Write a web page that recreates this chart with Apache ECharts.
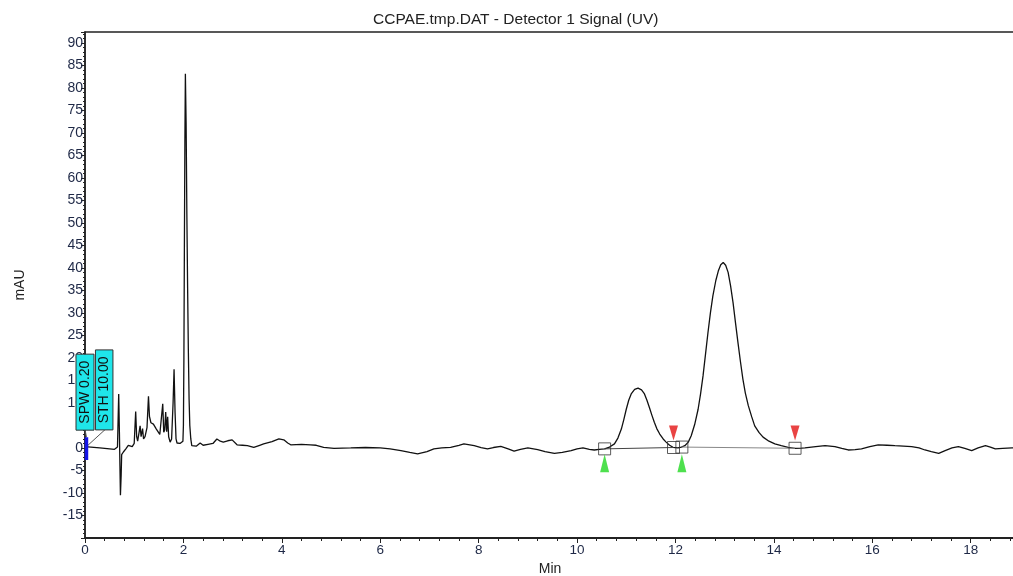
<!DOCTYPE html>
<html>
<head>
<meta charset="utf-8">
<script src="https://cdn.jsdelivr.net/npm/echarts@6/dist/echarts.min.js"></script>
<style>
html,body{margin:0;padding:0;background:#fff;}
#main{width:1013px;height:576px;}
</style>
</head>
<body>
<div id="main"></div>
<script>
// ---- Data ----
const titleText = 'CCPAE.tmp.DAT - Detector 1 Signal (UV)';
const xName = 'Min';
const yName = 'mAU';

// Chromatogram trace: [time (min), signal (mAU)]
const traceTime = [
  0, 0.3, 0.6, 0.66, 0.685, 0.70, 0.71, 0.72, 0.735, 0.745, 0.78, 0.83, 0.88, 0.92, 0.96,
  1.0, 1.03, 1.05, 1.07, 1.1, 1.12, 1.14, 1.17, 1.19, 1.22, 1.26, 1.29, 1.31, 1.34, 1.39,
  1.45, 1.52, 1.56, 1.58, 1.60, 1.62, 1.64, 1.66, 1.68, 1.70, 1.73, 1.76, 1.79, 1.81, 1.83,
  1.85, 1.87, 1.93, 1.97, 1.99, 2.00, 2.01, 2.02, 2.03, 2.04, 2.055, 2.07, 2.085, 2.10, 2.115,
  2.13, 2.15, 2.17, 2.2, 2.26, 2.34, 2.4, 2.5, 2.6, 2.68, 2.75, 2.81, 2.9, 2.99, 3.09,
  3.2, 3.3, 3.43, 3.55, 3.63, 3.8, 3.94, 4.04, 4.12, 4.18, 4.4, 4.58, 4.7, 4.85, 5.06,
  5.4, 5.7, 6.0, 6.2, 6.42, 6.6, 6.76, 6.95, 7.09, 7.25, 7.43, 7.6, 7.7, 7.91, 8.05,
  8.18, 8.3, 8.45, 8.6, 8.72, 8.85, 9.0, 9.2, 9.35, 9.54, 9.7, 9.88, 10.0, 10.12, 10.25,
  10.35, 10.45, 10.56, 10.66, 10.76, 10.83, 10.9, 10.95, 11.0, 11.05, 11.1, 11.17, 11.24, 11.31, 11.37,
  11.42, 11.47, 11.52, 11.57, 11.62, 11.68, 11.75, 11.81, 11.88, 11.95, 12.05, 12.12, 12.19, 12.26, 12.32,
  12.39, 12.46, 12.51, 12.56, 12.61, 12.66, 12.71, 12.76, 12.82, 12.87, 12.92, 12.97, 13.02, 13.07, 13.12,
  13.17, 13.22, 13.27, 13.32, 13.37, 13.42, 13.48, 13.55, 13.61, 13.7, 13.78, 13.9, 14.02, 14.15, 14.29,
  14.43, 14.56, 14.63, 14.85, 15.04, 15.24, 15.38, 15.51, 15.65, 15.78, 15.95, 16.12, 16.3, 16.46, 16.63,
  16.8, 16.95, 17.07, 17.2, 17.35, 17.48, 17.62, 17.75, 17.88, 18.02, 18.15, 18.3, 18.4, 18.5, 18.65,
  18.84, 18.9
];
const traceSignal = [
  0.3, 0.0, -0.3, 0.2, 12.0, 3, -4, -10.5, -6, -1.5, -0.9, -0.2, 0.6, 0.3, 0.3,
  1.0, 8.1, 2.5, 1.5, 3.5, 4.9, 2.5, 4.3, 2.0, 2.5, 4.5, 11.5, 7.0, 5.6, 5.3,
  4.2, 3.0, 2.6, 9.8, 3.5, 4.0, 8.0, 3.6, 6.9, 2.5, 1.3, 2.0, 10, 17.5, 8,
  2.0, 1.1, 1.0, 1.0, 1.5, 5, 20, 45, 68, 83.1, 72, 52, 36, 22, 11,
  5, 2, 0.5, 0.1, 0.4, 1.1, 0.6, 0.8, 1.0, 2.0, 1.5, 1.3, 1.6, 1.8, 0.7,
  0.6, 0.5, 0.15, 0.6, 0.9, 1.4, 2.0, 1.8, 1.1, 0.7, 0.8, 0.7, 0.6, 0.15, -0.07,
  0, 0.1, 0, -0.2, -0.6, -1.0, -1.3, -0.8, -0.2, 0.0, 0.15, 0.6, 0.9, 0.5, 0.1,
  -0.2, 0.1, 0.35, -0.2, -0.7, -0.3, 0, -0.35, -0.8, -1.2, -1.0, -0.6, -0.2, 0, -0.3,
  -0.45, -0.3, -0.2, 0.2, 0.9, 2.2, 4.2, 6.3, 8.6, 10.6, 12, 13, 13.3, 12.9, 12,
  10.6, 9.0, 7.3, 5.7, 4.3, 3.1, 2.0, 1.3, 0.6, 0.15, 0, 0.2, 0.5, 1.3, 2.7,
  5.2, 8.6, 12, 16, 20.8, 25.6, 30, 33.8, 37.2, 39.3, 40.7, 41.2, 40.6, 39, 36,
  32.3, 27.8, 23.4, 19.2, 15.3, 12.2, 9.4, 6.9, 4.9, 3.4, 2.4, 1.5, 0.9, 0.5, 0.15,
  -0.07, -0.05, 0, 0.3, 0.5, 0.3, -0.1, -0.45, -0.35, -0.2, 0.3, 0.7, 0.6, 0.5, 0.4,
  0.3, 0, -0.45, -0.8, -1.2, -0.6, 0, 0.3, -0.1, -0.6, 0, 0.5, 0.2, -0.2, -0.1,
  0, 0
];

// Integration events
const peakStarts = [[10.56, -0.2], [12.13, 0.2]];   // green markers
const peakEnds   = [[11.96, 0.1], [14.43, -0.07]];   // red markers
const baselineSegments = [
  [[10.56, -0.2], [11.96, 0.1]],
  [[12.13, 0.2], [14.43, -0.07]]
];
const startMarkerLevel = -3.4;
const endMarkerLevel = 3.3;

// Event annotations (label, anchor time, anchor signal)
const eventLabels = ['SPW 0.20', 'STH 10.00'];
const eventLabelAnchors = [[0.0, 12.4], [0.39, 12.9]];
const eventBar = [[0.03, 2.4], [0.03, -2.7]];
const eventLeaders = [
  [[0.0, 4.1], [0.03, 2.4]],
  [[0.41, 4.1], [0.05, 0.5]]
];

// Axis settings
const xMin = 0, xMax = 18.9, xStep = 2;
const yMin = -20, yMax = 92.4, yStep = 5;

// ---- Chart ----
const traceData = traceTime.map((t, i) => [t, traceSignal[i]]);
const FONT = '"Liberation Sans", Arial, sans-serif';
const chart = echarts.init(document.getElementById('main'), null, {renderer: 'canvas'});

const baseSeries = baselineSegments.map((seg, i) => ({
  type: 'line', data: seg, symbol: 'none', silent: true, z: 3,
  lineStyle: {color: i === 0 ? '#444' : '#888', width: 1}
}));
const leaderSeries = eventLeaders.map(seg => ({
  type: 'line', data: seg, symbol: 'none', silent: true, clip: false, z: 4,
  lineStyle: {color: '#555', width: 1}
}));

chart.setOption({
  animation: false,
  backgroundColor: '#fff',
  title: {
    text: titleText, left: 373, top: 12, padding: 0,
    textStyle: {fontFamily: FONT, fontSize: 15.5, fontWeight: 'normal', color: '#222'}
  },
  grid: {left: 85, top: 32, right: -2, bottom: 38, show: true, borderColor: '#222', borderWidth: 1.5,
         containLabel: false, outerBoundsMode: 'none'},
  xAxis: {
    type: 'value', min: xMin, max: xMax, interval: xStep,
    name: xName, nameLocation: 'middle', nameGap: 21,
    nameTextStyle: {fontFamily: FONT, fontSize: 14, color: '#222'},
    axisLine: {show: true, onZero: false, lineStyle: {color: '#222', width: 2}},
    axisTick: {show: true, length: 5, lineStyle: {color: '#222'}},
    minorTick: {show: true, splitNumber: 5, length: 3, lineStyle: {color: '#222'}},
    splitLine: {show: false},
    axisLabel: {
      fontFamily: FONT, fontSize: 13.5, color: '#1e2846', margin: 5,
      showMaxLabel: false,
      formatter: v => (Math.abs(v % xStep) < 1e-9 ? String(v) : '')
    }
  },
  yAxis: {
    type: 'value', min: yMin, max: yMax, interval: yStep,
    name: yName, nameLocation: 'middle', nameGap: 58, nameRotate: 90,
    nameTextStyle: {fontFamily: FONT, fontSize: 14, color: '#222'},
    axisLine: {show: true, onZero: false, lineStyle: {color: '#222', width: 1.5}},
    axisTick: {show: true, length: 4, lineStyle: {color: '#222'}},
    minorTick: {show: true, splitNumber: 5, length: 2, lineStyle: {color: '#222'}},
    splitLine: {show: false},
    axisLabel: {
      fontFamily: FONT, fontSize: 14, color: '#1e2846', margin: 2,
      showMinLabel: false, showMaxLabel: false,
      formatter: v => (Math.abs(v % yStep) < 1e-9 ? String(v) : '')
    }
  },
  series: [
    {
      type: 'line', data: traceData, symbol: 'none', z: 2,
      lineStyle: {color: '#111', width: 1.3}
    },
    ...baseSeries,
    {
      type: 'line', data: eventBar, symbol: 'none', silent: true, z: 5,
      lineStyle: {color: '#1414e6', width: 3.5}
    },
    ...leaderSeries,
    {
      type: 'scatter', z: 6, symbol: 'rect', symbolSize: 12,
      data: peakStarts.concat(peakEnds),
      itemStyle: {color: 'rgba(0,0,0,0)', borderColor: '#333', borderWidth: 1}
    },
    {
      type: 'scatter', z: 6, symbol: 'triangle', symbolSize: [9, 18],
      data: peakStarts.map(p => [p[0], startMarkerLevel]),
      itemStyle: {color: '#22d822'}
    },
    {
      type: 'scatter', z: 6, symbol: 'triangle', symbolSize: [9, 15], symbolRotate: 180,
      data: peakEnds.map(p => [p[0], endMarkerLevel]),
      itemStyle: {color: '#e31414'}
    }
  ]
});

// Event label boxes positioned from data coordinates
const boxSizes = [[76, 18], [80, 17.5]];
const graphics = eventLabels.map((txt, i) => {
  const p = chart.convertToPixel({gridIndex: 0}, eventLabelAnchors[i]);
  const w = boxSizes[i][0], h = boxSizes[i][1];
  return {
    type: 'group', x: p[0], y: p[1], rotation: Math.PI / 2, z: 100,
    children: [
      {type: 'rect', shape: {x: -w / 2, y: -h / 2, width: w, height: h},
       style: {fill: '#1fe6ea', stroke: '#333', lineWidth: 1}, z: 100},
      {type: 'text', x: 0, y: 0, z: 101,
       style: {text: txt, fill: '#111', font: '14px ' + FONT, align: 'center', verticalAlign: 'middle'}}
    ]
  };
});
chart.setOption({graphic: graphics});
</script>
</body>
</html>
